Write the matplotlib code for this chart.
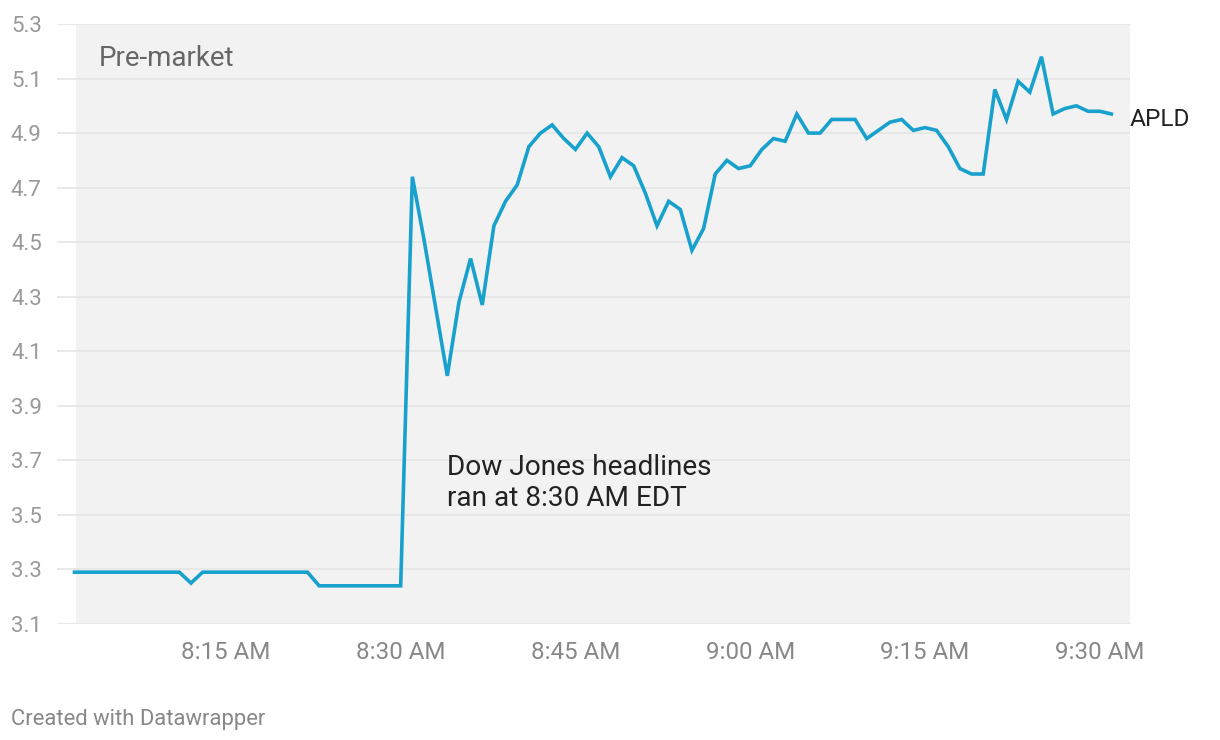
import matplotlib
matplotlib.use("Agg")
import matplotlib.pyplot as plt
import matplotlib.dates as mdates
import pandas as pd

plt.rcParams['font.family'] = ['Roboto', 'DejaVu Sans']

# APLD pre-market price, one value per minute starting 8:02 AM
start_time = "2023-01-01 08:02"
prices = [3.29] * 10 + [3.25] + [3.29] * 10 + [3.24] * 8 + [
    4.74, 4.51, 4.26, 4.01, 4.28, 4.44, 4.27, 4.56, 4.65, 4.71,
    4.85, 4.90, 4.93, 4.88, 4.84, 4.90, 4.85, 4.74, 4.81, 4.78,
    4.68, 4.56, 4.65, 4.62, 4.47, 4.55, 4.75, 4.80, 4.77, 4.78,
    4.84, 4.88, 4.87, 4.97, 4.90, 4.90, 4.95, 4.95, 4.95, 4.88,
    4.91, 4.94, 4.95, 4.91, 4.92, 4.91, 4.85, 4.77, 4.75, 4.75,
    5.06, 4.95, 5.09, 5.05, 5.18, 4.97, 4.99, 5.00, 4.98, 4.98,
    4.97,
]
ticker = "APLD"
y_ticks = [3.1, 3.3, 3.5, 3.7, 3.9, 4.1, 4.3, 4.5, 4.7, 4.9, 5.1, 5.3]
x_ticks = ["08:15", "08:30", "08:45", "09:00", "09:15", "09:30"]

times = pd.date_range(start=start_time, periods=len(prices), freq="min")
day = "2023-01-01 "

fig = plt.figure(figsize=(12.2, 7.4), dpi=100)
ax = fig.add_axes([57 / 1220, 1 - 624 / 740, (1130 - 57) / 1220, 600 / 740])

x_left = pd.Timestamp(day + "08:00:30")
x_right = pd.Timestamp(day + "09:32:36")
ax.set_xlim(x_left, x_right)
ax.set_ylim(3.1, 5.3)

ax.axvspan(times[0] + pd.Timedelta(seconds=8), x_right, color="#f2f2f2", lw=0, zorder=0)
for v in y_ticks:
    ax.axhline(v, color="#e5e5e5", lw=1.2, zorder=1)

ax.plot(times, prices, color="#18a1cd", lw=2.6, zorder=3, solid_joinstyle="miter")

ax.set_yticks(y_ticks)
ax.set_yticklabels([f"{v:.1f}" for v in y_ticks])
ax.set_xticks([pd.Timestamp(day + t) for t in x_ticks])
ax.xaxis.set_major_formatter(mdates.DateFormatter("%-I:%M %p"))
ax.tick_params(axis="y", length=0, pad=11, labelsize=16, labelcolor="#999999")
ax.tick_params(axis="x", length=0, pad=12, labelsize=17.4, labelcolor="#888888")
for s in ax.spines.values():
    s.set_visible(False)

ax.text((99 - 57) / 1073, (624 - 66) / 600, "Pre-market",
        transform=ax.transAxes, fontsize=20, color="#666666", va="baseline", ha="left")

ax.text(pd.Timestamp(day + "08:34:00"), 3.722, "Dow Jones headlines\nran at 8:30 AM EDT",
        fontsize=20.2, color="#222222", va="top", ha="left", linespacing=1.15)

ax.annotate(ticker, xy=(times[-1], prices[-1]), xytext=(13, -8.6),
            textcoords="offset points", fontsize=17.6, color="#222222",
            va="baseline", ha="left", annotation_clip=False)

fig.text(11 / 1220, 1 - 725 / 740, "Created with Datawrapper", fontsize=15.8,
         color="#888888", ha="left", va="baseline")

fig.savefig("out.png", dpi=100)
